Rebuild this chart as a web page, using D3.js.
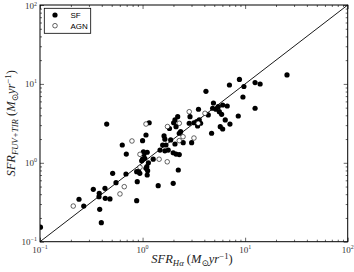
<!DOCTYPE html>
<html><head><meta charset="utf-8">
<script src="https://cdn.jsdelivr.net/npm/d3@7"></script>
<style>html,body{margin:0;padding:0;background:#fff;}</style>
</head><body>
<svg id="c" width="354" height="272"></svg>
<script>
// SF galaxies: SFR(Halpha) and SFR(FUV+TIR), Msun/yr
const sfX = [0.101,0.240,0.267,0.331,0.378,0.376,0.430,0.433,0.481,0.382,0.396,0.511,0.551,0.689,0.876,0.888,0.876,0.916,1.11,1.08,1.12,
  0.447,1.16,1.08,1.00,0.634,0.694,1.03,1.11,1.00,1.02,1.05,1.14,0.98,1.10,1.27,1.48,1.65,1.78,1.99,2.12,2.28,2.23,1.99,1.42,
  1.62,1.65,1.57,1.69,1.88,2.07,2.28,2.35,2.49,3.01,2.01,2.07,2.20,2.90,2.85,3.17,3.37,3.68,3.57,3.51,1.83,2.12,
  4.71,6.04,5.72,6.40,7.11,4.37,4.91,5.47,6.04,6.69,4.82,5.19,5.60,5.90,8.57,12.5,9.52,4.15,7.03,8.80,9.73,12.5,14.0,25.6,0.94,3.44];
const sfY = [0.153,0.345,0.283,0.461,0.411,0.372,0.475,0.355,0.348,0.257,0.174,0.736,0.560,0.721,0.331,0.576,0.771,0.771,0.700,0.852,0.794,
  3.10,3.22,2.25,1.91,1.68,1.29,1.28,1.36,1.11,1.38,1.14,1.00,1.06,0.893,1.11,1.45,1.42,1.45,1.34,1.29,1.27,0.811,0.550,0.513,
  2.19,1.99,1.68,1.68,1.95,1.73,2.37,2.48,1.80,1.80,3.22,3.49,3.84,3.84,3.17,3.22,3.32,3.17,3.49,4.77,2.72,2.87,
  2.37,2.68,2.87,3.49,3.10,4.04,5.73,5.14,5.40,5.25,4.91,4.77,4.44,4.12,3.92,4.91,6.82,8.06,9.68,11.4,9.27,10.4,9.97,13.0,0.736,2.93];
// AGN
const agnX = [0.211,0.602,0.663,1.08,0.788,0.944,0.944,1.45,1.74,1.75,2.28,2.85,3.49,4.06,2.48,3.17,2.28];
const agnY = [0.283,0.403,0.498,3.10,1.89,1.28,0.877,1.11,1.03,2.88,3.17,4.44,3.17,4.24,2.14,2.06,1.91];
const majorTicks = [0.1, 1, 10, 100];
const tickExponents = ["\u22121", "0", "1", "2"];
const legendLabels = ["SF", "AGN"];

const L = 40, R = 347.7, T = 5, B = 241.7;
const svg = d3.select("#c");
const x = d3.scaleLog().domain([0.1, 100]).range([L, R]);
const y = d3.scaleLog().domain([0.1, 100]).range([B, T]);
const minor = x.ticks().filter(v => !majorTicks.some(m => Math.abs(Math.log10(v) - Math.log10(m)) < 1e-6));

function addAxis(axisFn, scale, tx, ty) {
  const g1 = svg.append("g").attr("transform", `translate(${tx},${ty})`)
    .call(axisFn(scale).tickValues(majorTicks).tickSize(-4).tickFormat(""));
  const g2 = svg.append("g").attr("transform", `translate(${tx},${ty})`)
    .call(axisFn(scale).tickValues(minor).tickSize(-2).tickFormat(""));
  [g1, g2].forEach(g => { g.select(".domain").remove(); g.selectAll("line").attr("stroke", "#000").attr("stroke-width", 0.6); });
}
addAxis(d3.axisBottom, x, 0, B);
addAxis(d3.axisTop, x, 0, T);
addAxis(d3.axisLeft, y, L, 0);
addAxis(d3.axisRight, y, R, 0);

// 1:1 line
svg.append("line").attr("x1", x(0.1)).attr("y1", y(0.1)).attr("x2", x(100)).attr("y2", y(100))
  .attr("stroke", "#000").attr("stroke-width", 0.9);

// points
const sf = sfX.map((v, i) => [v, sfY[i]]);
const agn = agnX.map((v, i) => [v, agnY[i]]);
svg.append("clipPath").attr("id", "pc").append("rect").attr("x", L).attr("y", T).attr("width", R - L).attr("height", B - T);
const pg = svg.append("g").attr("clip-path", "url(#pc)");
pg.selectAll("circle.sf").data(sf).join("circle").attr("class", "sf")
  .attr("cx", d => x(d[0])).attr("cy", d => y(d[1])).attr("r", 2.6).attr("fill", "#000");
pg.selectAll("circle.agn").data(agn).join("circle").attr("class", "agn")
  .attr("cx", d => x(d[0])).attr("cy", d => y(d[1])).attr("r", 2.3).attr("fill", "#fff")
  .attr("stroke", "#000").attr("stroke-width", 0.6);

// frame
svg.append("rect").attr("x", L).attr("y", T).attr("width", R - L).attr("height", B - T)
  .attr("fill", "none").attr("stroke", "#000").attr("stroke-width", 1);

const serif = "'Liberation Serif','DejaVu Serif',serif";
// tick labels
majorTicks.forEach((v, i) => {
  const t = svg.append("text").attr("x", x(v)).attr("y", B + 11).attr("text-anchor", "middle")
    .attr("font-family", serif).attr("font-size", 9).attr("fill", "#333");
  t.append("tspan").text("10");
  t.append("tspan").attr("dy", -3.5).attr("font-size", 6).text(tickExponents[i]);
  const u = svg.append("text").attr("x", L - 3).attr("y", Math.max(y(v) + 3, 9)).attr("text-anchor", "end")
    .attr("font-family", serif).attr("font-size", 9).attr("fill", "#333");
  u.append("tspan").text("10");
  u.append("tspan").attr("dy", -3.5).attr("font-size", 6).text(tickExponents[i]);
});

function richLabel(sel, parts, fs) {
  let off = 0;
  parts.forEach(p => {
    const s = sel.append("tspan").text(p.t);
    const target = p.sub ? 3 : p.sup ? -4.5 : 0;
    s.attr("dy", target - off);
    off = target;
    if (p.sub || p.sup) s.attr("font-size", fs * 0.7);
    if (p.it === false) s.attr("font-style", "normal");
  });
}
const xl = svg.append("text").attr("x", 192).attr("y", 263).attr("text-anchor", "middle")
  .attr("font-family", serif).attr("font-size", 12.5).attr("font-style", "italic").attr("fill", "#222");
richLabel(xl, [{t: "SFR"}, {t: "H\u03b1", sub: true}, {t: " (", it: false}, {t: "M"}, {t: "\u2299", sub: true, it: false}, {t: "yr"}, {t: "\u22121", sup: true, it: false}, {t: ")", it: false}], 12.5);

const yl = svg.append("text").attr("transform", `translate(15,${(T + B) / 2}) rotate(-90)`).attr("text-anchor", "middle")
  .attr("font-family", serif).attr("font-size", 12.5).attr("font-style", "italic").attr("fill", "#222");
richLabel(yl, [{t: "SFR"}, {t: "FUV+TIR", sub: true}, {t: " (", it: false}, {t: "M"}, {t: "\u2299", sub: true, it: false}, {t: "yr"}, {t: "\u22121", sup: true, it: false}, {t: ")", it: false}], 12.5);

// legend
const lg = svg.append("g");
lg.append("rect").attr("x", 44.3).attr("y", 8.3).attr("width", 46.4).attr("height", 25)
  .attr("fill", "#fff").attr("stroke", "#000").attr("stroke-width", 0.8);
const legY = [15, 25.7];
legendLabels.forEach((lab, i) => {
  const c = lg.append("circle").attr("cx", 55).attr("cy", legY[i]).attr("r", i === 0 ? 2.6 : 2.3);
  if (i === 0) c.attr("fill", "#000"); else c.attr("fill", "#fff").attr("stroke", "#000").attr("stroke-width", 0.6);
  lg.append("text").attr("x", 70.5).attr("y", legY[i] + 3).attr("font-family", "'Liberation Sans',Arial,sans-serif")
    .attr("font-size", 8).attr("fill", "#000").text(lab);
});
</script>
</body></html>
